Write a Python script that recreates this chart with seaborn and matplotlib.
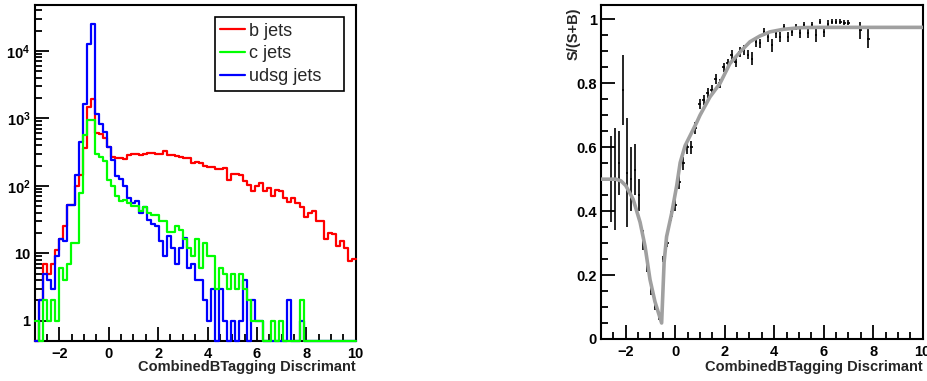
import numpy as np
import pandas as pd
import matplotlib
matplotlib.use("Agg")
import matplotlib.pyplot as plt
import seaborn as sns
from matplotlib.ticker import FixedLocator, FixedFormatter, MultipleLocator, NullFormatter

sns.set_theme(style="white")
plt.rcParams['font.family'] = ['Liberation Sans', 'DejaVu Sans']
plt.rcParams['mathtext.fontset'] = 'custom'
plt.rcParams['mathtext.rm'] = 'Liberation Sans'
plt.rcParams['mathtext.bf'] = 'Liberation Sans:bold'

# ---------------- data ----------------
X_MIN, X_MAX, N_BINS = -3.0, 10.0, 80

b_jets = [0, 2, 7, 5, 7, 11, 16, 25, 52, 52,
          100, 145, 362, 1490, 1950, 610, 590, 520, 380, 272,
          257, 257, 250, 288, 298, 298, 290, 298, 311, 311,
          298, 298, 333, 288, 288, 280, 272, 257, 257, 220,
          229, 215, 200, 190, 190, 176, 180, 185, 123, 150,
          150, 146, 116, 103, 85, 100, 112, 85, 93, 71,
          87, 85, 66, 57, 66, 55, 48, 35, 40, 43,
          30, 30, 16, 20, 19, 13, 15, 12, 7.6, 8.2]

c_jets = [1, 0, 2, 1, 2, 1, 6, 4, 7, 14,
          14, 79, 570, 950, 950, 300, 270, 230, 120, 100,
          71, 60, 62, 56, 50, 50, 43, 48, 40, 37,
          37, 30, 30, 21, 21, 25, 22, 16, 12, 9,
          16, 6, 14, 9, 9, 3, 6, 5, 3, 5,
          3, 5, 3, 2, 1, 1, 1, 0, 0, 1,
          0, 1, 0, 0, 0, 0, 2, 0, 0, 0,
          0, 0, 0, 0, 0, 0, 0, 0, 0, 0]

udsg_jets = [0, 2, 5, 4, 3, 9, 16, 15, 52, 52,
             145, 450, 1650, 12600, 25000, 1150, 820, 620, 380, 243,
             140, 125, 100, 66, 55, 60, 39, 48, 31, 27,
             25, 15, 9, 18, 12, 7, 12, 17, 6, 7,
             4, 4, 2, 1, 3, 0, 3, 1, 0, 1,
             0, 1, 4, 0, 2, 1, 1, 0, 0, 0,
             0, 0, 0, 2, 0, 0, 1, 0, 0, 0,
             0, 0, 0, 0, 0, 0, 0, 0, 0, 0]

nan = np.nan
ratio = [nan, nan, 0.50, 0.50, 0.55, 0.78, 0.52, 0.50, 0.53, 0.45,
         0.31, 0.23, 0.15, 0.10, 0.065, 0.25, 0.30, 0.385, 0.42, 0.49,
         0.55, 0.60, 0.60, 0.66, 0.736, 0.747, 0.77, 0.78, 0.814, 0.80,
         0.85, 0.862, 0.888, 0.866, 0.898, 0.904, 0.89, 0.877, 0.93, 0.925,
         0.961, 0.945, 0.919, 0.956, 0.945, 0.977, 0.945, 0.961, 0.977, 0.956,
         0.982, 0.956, 0.982, 0.95, 0.993, 0.961, 0.987, 0.993, 0.993, 0.993,
         0.99, 0.99, nan, nan, 0.966, nan, 0.94, nan, nan, nan,
         nan, nan, nan, nan, nan, nan, nan, nan, nan, nan]

ratio_err = [nan, nan, 0.135, 0.16, 0.10, 0.11, 0.17, 0.10, 0.08, 0.05,
             0.03, 0.02, 0.012, 0.008, 0.004, 0.01, 0.012, 0.015, 0.018, 0.02,
             0.02, 0.02, 0.02, 0.02, 0.015, 0.015, 0.015, 0.015, 0.015, 0.015,
             0.015, 0.015, 0.015, 0.015, 0.015, 0.015, 0.015, 0.02, 0.015, 0.015,
             0.012, 0.015, 0.02, 0.015, 0.015, 0.01, 0.015, 0.012, 0.01, 0.015,
             0.01, 0.015, 0.01, 0.02, 0.008, 0.015, 0.01, 0.008, 0.008, 0.008,
             0.008, 0.008, nan, nan, 0.026, nan, 0.031, nan, nan, nan,
             nan, nan, nan, nan, nan, nan, nan, nan, nan, nan]

curve_x = [-3.0, -2.4, -2.2, -2.0, -1.7, -1.42, -1.22, -1.02, -0.82, -0.55,
           -0.45, -0.35, -0.14, 0.06, 0.2, 0.4, 0.6, 0.87, 1.0, 1.4,
           1.81, 2.21, 2.62, 3.02, 3.42, 3.83, 4.37, 5.04, 5.71, 10.0]
curve_y = [0.50, 0.50, 0.495, 0.48, 0.437, 0.365, 0.29, 0.186, 0.117, 0.05,
           0.24, 0.32, 0.395, 0.48, 0.552, 0.605, 0.636, 0.678, 0.70, 0.757,
           0.80, 0.862, 0.898, 0.93, 0.948, 0.961, 0.969, 0.974, 0.975, 0.975]

series = [("b jets", b_jets, "#ff0000", 3.0),
          ("c jets", c_jets, "#00ff00", 3.2),
          ("udsg jets", udsg_jets, "#0000ff", 3.1)]

x_label = "CombinedBTagging Discrimant"
y_label_right = "S/(S+B)"

# ---------------- figure ----------------
W, H = 927, 381
fig = plt.figure(figsize=(W / 100, H / 100), dpi=100)
ax1 = fig.add_axes([34.6 / W, 40 / H, 321.1 / W, 336 / H])
ax2 = fig.add_axes([601 / W, 42 / H, 321.7 / W, 334 / H])

edges = np.linspace(X_MIN, X_MAX, N_BINS + 1)
centers = 0.5 * (edges[:-1] + edges[1:])

YMIN, YMAX = 0.5, 4.8e4
for name, vals, color, z in series:
    v = np.asarray(vals, float)
    v = np.where(v > 0, v, YMIN)
    df = pd.DataFrame({"x": edges, "y": np.append(v, v[-1])})
    sns.lineplot(data=df, x="x", y="y", ax=ax1, color=color, lw=1.6,
                 drawstyle="steps-post", estimator=None, sort=False, label=name,
                 zorder=z, clip_on=False)

ax1.set_yscale("log")
ax1.set_xlim(X_MIN, X_MAX)
ax1.set_ylim(YMIN, YMAX)

# right panel
ax2.errorbar(centers, ratio, yerr=ratio_err, xerr=0.05, fmt="none",
             ecolor="black", elinewidth=1.2, capsize=0, zorder=2)
sns.lineplot(x=curve_x, y=curve_y, ax=ax2, color="#a0a0a0", lw=2.6,
             estimator=None, sort=False, zorder=3)
ax2.set_xlim(X_MIN, X_MAX)
ax2.set_ylim(0, 1.045)

bold = dict(fontweight="bold", fontsize=10.5)

for ax in (ax1, ax2):
    for s in ax.spines.values():
        s.set_color("black")
        s.set_linewidth(1.5)
        s.set_visible(True)
    ax.xaxis.set_major_locator(MultipleLocator(2))
    ax.xaxis.set_minor_locator(MultipleLocator(0.5))
    ax.tick_params(which="both", direction="in", top=False, right=False,
                   bottom=True, left=True, color="black", labelcolor="black")
    ax.tick_params(which="major", length=10, width=1.3)
    ax.tick_params(which="minor", length=5, width=1.3)
    ax.tick_params(axis="x", pad=4)
    ax.tick_params(axis="y", pad=3)
    for lab in ax.get_xticklabels() + ax.get_yticklabels():
        lab.set_fontweight("bold")
        lab.set_fontsize(10.5)
    ax.set_xlabel(x_label, **bold)
    ax.xaxis.label.set_ha("right")
    ax.xaxis.label.set_va("center")
    ax.grid(False)

ax1.xaxis.set_label_coords(1.0, -0.077)
ax2.xaxis.set_label_coords(1.0, -0.083)
ax1.set_ylabel("")

# log y ticks
major = [1, 10, 100, 1000, 10000]
ax1.yaxis.set_major_locator(FixedLocator(major))
ax1.yaxis.set_major_formatter(FixedFormatter(["1", "10", r"$\mathbf{10^{2}}$",
                                              r"$\mathbf{10^{3}}$", r"$\mathbf{10^{4}}$"]))
minors = [m * 10 ** d for d in range(0, 5) for m in range(2, 10) if m * 10 ** d < YMAX]
ax1.yaxis.set_minor_locator(FixedLocator(minors))
ax1.yaxis.set_minor_formatter(NullFormatter())
for lab in ax1.get_yticklabels():
    lab.set_fontweight("bold")
    lab.set_fontsize(10.5)

# right y ticks
ax2.yaxis.set_major_locator(FixedLocator([0, 0.2, 0.4, 0.6, 0.8, 1.0]))
ax2.yaxis.set_major_formatter(FixedFormatter(["0", "0.2", "0.4", "0.6", "0.8", "1"]))
ax2.yaxis.set_minor_locator(MultipleLocator(0.05))
for lab in ax2.get_yticklabels():
    lab.set_fontweight("bold")
    lab.set_fontsize(10.5)
ax2.set_ylabel(y_label_right, **bold)
ax2.yaxis.label.set_ha("right")
ax2.yaxis.set_label_coords(-0.062, 0.994)

leg = ax1.legend(loc="upper left", bbox_to_anchor=(0.5618, 0.964, 0.4017, 0.0),
                 mode="expand", fontsize=13,
                 frameon=True, fancybox=False, framealpha=1, edgecolor="black",
                 handlelength=1.35, handletextpad=0.25, labelspacing=0.33,
                 borderpad=0.3, borderaxespad=0)
leg.get_frame().set_linewidth(1.2)
leg.set_zorder(5)
for line in leg.get_lines():
    line.set_linewidth(1.6)

fig.savefig("out.png", dpi=100)
